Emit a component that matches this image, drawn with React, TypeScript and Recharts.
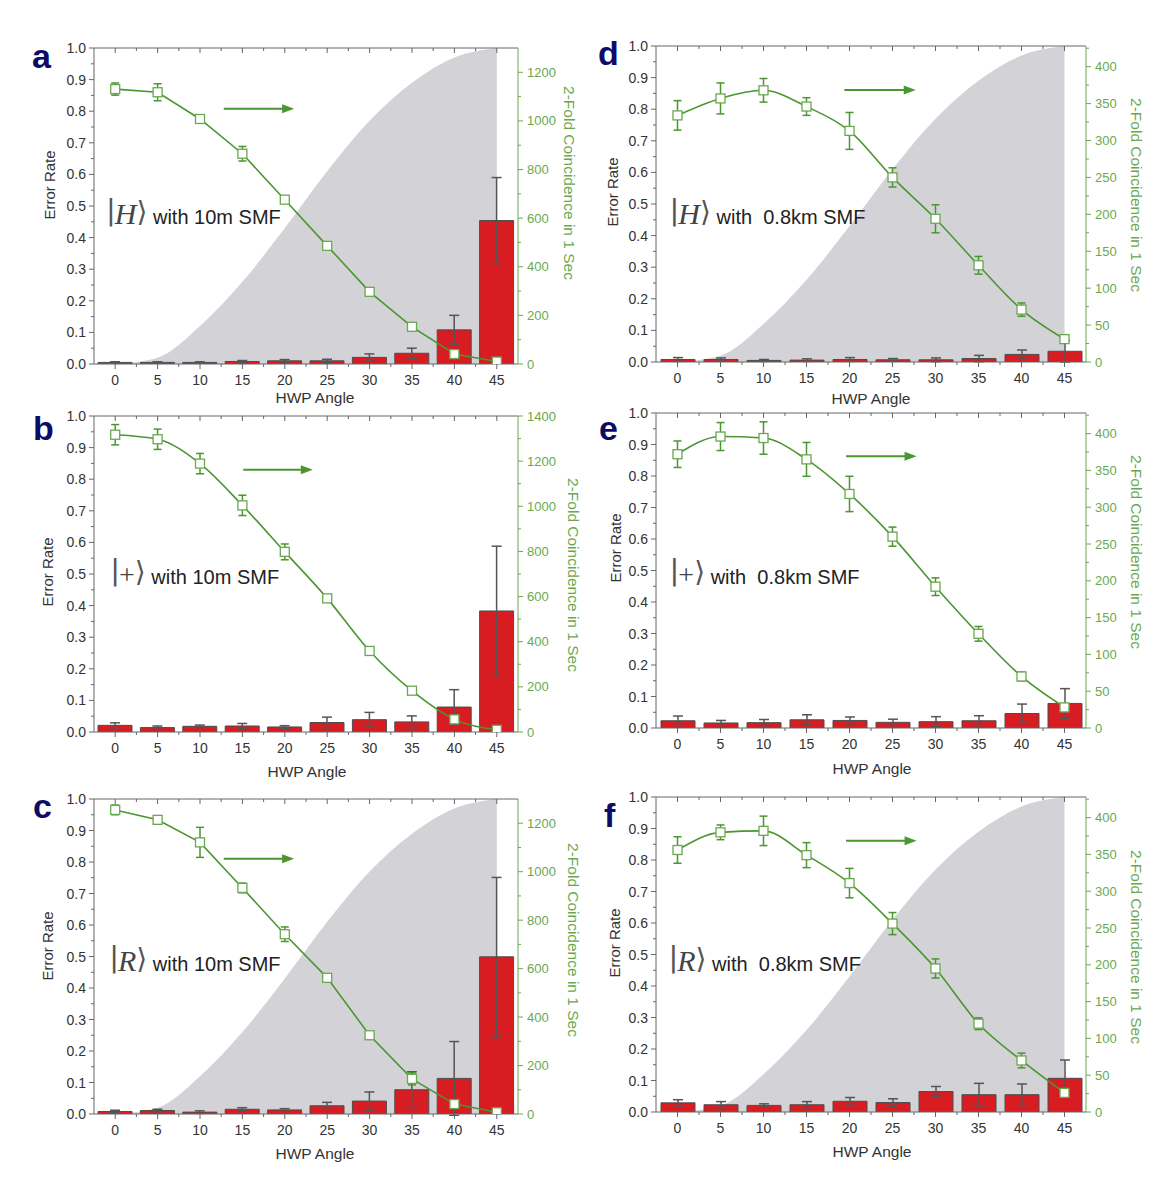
import React from "react";
import {
  ComposedChart,
  Area,
  Bar,
  Line,
  XAxis,
  YAxis,
  ErrorBar,
  ReferenceLine,
  ReferenceDot,
} from "recharts";

const C_RED = "#d71c22";
const C_BAR_EDGE = "#4d4d4d";
const C_SHADE = "#d3d3d7";
const C_GREEN = "#4a9630";
const C_GREEN_AXIS = "#6aa84f";
const C_AXIS = "#666666";
const C_TEXT = "#333333";
const C_NAVY = "#0c0c66";
const SANS = "Liberation Sans, Arial, sans-serif";
const SERIF = "Liberation Serif, DejaVu Serif, serif";

// HWP angle categories (degrees)
const angles = [0, 5, 10, 15, 20, 25, 30, 35, 40, 45];
// grey background profile (left axis units)
const shade = [0, 0.02, 0.12, 0.26, 0.43, 0.61, 0.77, 0.89, 0.97, 1.0];

// axis ticks
const leftMajor = [0, 0.1, 0.2, 0.3, 0.4, 0.5, 0.6, 0.7, 0.8, 0.9, 1.0];
const leftMinor = [0.05, 0.15, 0.25, 0.35, 0.45, 0.55, 0.65, 0.75, 0.85, 0.95];
const bottomMinor = [2.5, 7.5, 12.5, 17.5, 22.5, 27.5, 32.5, 37.5, 42.5];
const right1300Major = [0, 200, 400, 600, 800, 1000, 1200];
const right1300Minor = [100, 300, 500, 700, 900, 1100];
const right1400Major = [0, 200, 400, 600, 800, 1000, 1200, 1400];
const right1400Minor = [100, 300, 500, 700, 900, 1100, 1300];
const right430Major = [0, 50, 100, 150, 200, 250, 300, 350, 400];
const right430Minor = [25, 75, 125, 175, 225, 275, 325, 375, 425];

// panel a: |H> 10m
const rateA = [0.005, 0.005, 0.005, 0.008, 0.01, 0.01, 0.021, 0.034, 0.108, 0.454];
const rateErrA = [0.002, 0.002, 0.002, 0.003, 0.004, 0.005, 0.011, 0.016, 0.046, 0.136];
const coincA = [1131, 1118, 1008, 865, 676, 486, 297, 153, 41, 10];
const coincErrA = [25, 35, 15, 30, 12, 10, 8, 8, 8, 3];

// panel b: |+> 10m
const rateB = [0.021, 0.014, 0.018, 0.019, 0.016, 0.03, 0.039, 0.032, 0.079, 0.383];
const rateErrB = [0.008, 0.005, 0.004, 0.008, 0.004, 0.017, 0.023, 0.019, 0.055, 0.205];
const coincB = [1317, 1297, 1189, 1004, 798, 592, 359, 183, 56, 10];
const coincErrB = [45, 45, 45, 45, 35, 15, 10, 10, 15, 3];

// panel c: |R> 10m
const rateC = [0.008, 0.011, 0.006, 0.015, 0.013, 0.026, 0.041, 0.077, 0.113, 0.499];
const rateErrC = [0.004, 0.004, 0.004, 0.005, 0.004, 0.011, 0.029, 0.057, 0.117, 0.252];
const coincC = [1255, 1214, 1121, 933, 742, 562, 325, 145, 41, 7];
const coincErrC = [20, 15, 62, 20, 30, 10, 12, 25, 10, 5];

// panel d: |H> 0.8km
const rateD = [0.008, 0.008, 0.005, 0.006, 0.008, 0.007, 0.007, 0.011, 0.024, 0.034];
const rateErrD = [0.006, 0.005, 0.003, 0.004, 0.006, 0.004, 0.006, 0.01, 0.014, 0.034];
const coincD = [334, 357, 368, 346, 313, 250, 194, 131, 71, 31];
const coincErrD = [20, 21, 16, 12, 25, 13, 19, 12, 9, 5];

// panel e: |+> 0.8km
const rateE = [0.023, 0.016, 0.017, 0.026, 0.024, 0.018, 0.02, 0.023, 0.046, 0.078];
const rateErrE = [0.015, 0.008, 0.01, 0.016, 0.011, 0.01, 0.016, 0.016, 0.03, 0.047];
const coincE = [372, 396, 394, 365, 318, 260, 192, 128, 70, 28];
const coincErrE = [18, 19, 22, 23, 24, 13, 12, 10, 6, 5];

// panel f: |R> 0.8km
const rateF = [0.029, 0.023, 0.021, 0.023, 0.034, 0.03, 0.065, 0.055, 0.055, 0.107];
const rateErrF = [0.01, 0.01, 0.005, 0.01, 0.012, 0.012, 0.016, 0.036, 0.034, 0.058];
const coincF = [356, 380, 382, 349, 311, 256, 195, 120, 70, 26];
const coincErrF = [18, 10, 20, 17, 20, 15, 13, 8, 10, 5];

const LW = 60;
const RW = 45;
const MT = 10;
const XH = 30;

type PanelCfg = {
  letter: string;
  plot: { x: number; y: number; w: number; h: number };
  rate: number[];
  rateErr: number[];
  coinc: number[];
  coincErr: number[];
  shaded: boolean;
  curve: "linear" | "monotone";
  rightMax: number;
  rightMajor: number[];
  rightMinor: number[];
  ket: string;
  italicKet: boolean;
  fiber: string;
  ketAt: { x: number; y: number };
  arrow: { x1: number; x2: number; y: number };
  letterAt: { x: number; y: number };
  errTitle: { x: number; y: number };
  hwpTitle: { x: number; y: number };
  coinTitle: { x: number; y: number };
};

const panels: PanelCfg[] = [
  {
    letter: "a",
    plot: { x: 94, y: 48, w: 424, h: 316 },
    rate: rateA, rateErr: rateErrA, coinc: coincA, coincErr: coincErrA,
    shaded: true, curve: "linear",
    rightMax: 1300, rightMajor: right1300Major, rightMinor: right1300Minor,
    ket: "H", italicKet: true, fiber: "with 10m SMF",
    ketAt: { x: -1.08, y: 0.443 },
    arrow: { x1: 12.8, x2: 21.1, y: 0.808 },
    letterAt: { x: 32, y: 68 },
    errTitle: { x: 49, y: 185 },
    hwpTitle: { x: 315, y: 397 },
    coinTitle: { x: 569, y: 183 },
  },
  {
    letter: "b",
    plot: { x: 94, y: 416, w: 424, h: 316 },
    rate: rateB, rateErr: rateErrB, coinc: coincB, coincErr: coincErrB,
    shaded: false, curve: "monotone",
    rightMax: 1400, rightMajor: right1400Major, rightMinor: right1400Minor,
    ket: "+", italicKet: false, fiber: "with 10m SMF",
    ketAt: { x: -0.58, y: 0.467 },
    arrow: { x1: 15.1, x2: 23.3, y: 0.83 },
    letterAt: { x: 33, y: 440 },
    errTitle: { x: 47, y: 572 },
    hwpTitle: { x: 307, y: 771 },
    coinTitle: { x: 573, y: 575 },
  },
  {
    letter: "c",
    plot: { x: 94, y: 799, w: 424, h: 315 },
    rate: rateC, rateErr: rateErrC, coinc: coincC, coincErr: coincErrC,
    shaded: true, curve: "linear",
    rightMax: 1300, rightMajor: right1300Major, rightMinor: right1300Minor,
    ket: "R", italicKet: true, fiber: "with 10m SMF",
    ketAt: { x: -0.71, y: 0.454 },
    arrow: { x1: 12.8, x2: 21.1, y: 0.81 },
    letterAt: { x: 33, y: 818 },
    errTitle: { x: 47, y: 946 },
    hwpTitle: { x: 315, y: 1153 },
    coinTitle: { x: 573, y: 940 },
  },
  {
    letter: "d",
    plot: { x: 656, y: 46, w: 430, h: 316 },
    rate: rateD, rateErr: rateErrD, coinc: coincD, coincErr: coincErrD,
    shaded: true, curve: "monotone",
    rightMax: 428, rightMajor: right430Major, rightMinor: right430Minor,
    ket: "H", italicKet: true, fiber: "with  0.8km SMF",
    ketAt: { x: -0.92, y: 0.438 },
    arrow: { x1: 19.4, x2: 27.7, y: 0.861 },
    letterAt: { x: 598, y: 65 },
    errTitle: { x: 612, y: 192 },
    hwpTitle: { x: 871, y: 398 },
    coinTitle: { x: 1136, y: 195 },
  },
  {
    letter: "e",
    plot: { x: 656, y: 413, w: 430, h: 315 },
    rate: rateE, rateErr: rateErrE, coinc: coincE, coincErr: coincErrE,
    shaded: false, curve: "monotone",
    rightMax: 428, rightMajor: right430Major, rightMinor: right430Minor,
    ket: "+", italicKet: false, fiber: "with  0.8km SMF",
    ketAt: { x: -0.92, y: 0.457 },
    arrow: { x1: 19.6, x2: 27.8, y: 0.863 },
    letterAt: { x: 599, y: 440 },
    errTitle: { x: 615, y: 548 },
    hwpTitle: { x: 872, y: 768 },
    coinTitle: { x: 1136, y: 552 },
  },
  {
    letter: "f",
    plot: { x: 656, y: 797, w: 430, h: 315 },
    rate: rateF, rateErr: rateErrF, coinc: coincF, coincErr: coincErrF,
    shaded: true, curve: "monotone",
    rightMax: 428, rightMajor: right430Major, rightMinor: right430Minor,
    ket: "R", italicKet: true, fiber: "with  0.8km SMF",
    ketAt: { x: -1.05, y: 0.448 },
    arrow: { x1: 19.6, x2: 27.8, y: 0.861 },
    letterAt: { x: 604, y: 827 },
    errTitle: { x: 614, y: 943 },
    hwpTitle: { x: 872, y: 1151 },
    coinTitle: { x: 1136, y: 947 },
  },
];

function Panel({ cfg }: { cfg: PanelCfg }) {
  const { plot } = cfg;
  const W = plot.w + LW + RW;
  const H = plot.h + MT + XH;
  const pL = LW;
  const pR = LW + plot.w;
  const pT = MT;
  const pB = MT + plot.h;

  const rows = angles.map((a, i) => ({
    angle: a,
    shade: cfg.shaded ? shade[i] : null,
    rate: cfg.rate[i],
    rateErr: cfg.rateErr[i],
    coinc: cfg.coinc[i],
    coincErr: cfg.coincErr[i],
  }));

  const leftTick = (p: any) => {
    const v = p.payload.value;
    const major = leftMajor.includes(v);
    return (
      <g>
        <line x1={pL} x2={pL - (major ? 5 : 3)} y1={p.y} y2={p.y} stroke={C_AXIS} />
        {major && (
          <text x={pL - 8} y={p.y} dy={5} textAnchor="end" fontSize={14} fontFamily={SANS} fill={C_TEXT}>
            {v.toFixed(1)}
          </text>
        )}
      </g>
    );
  };

  const rightTick = (p: any) => {
    const v = p.payload.value;
    const major = cfg.rightMajor.includes(v);
    return (
      <g>
        <line x1={pR} x2={pR + (major ? 5 : 3)} y1={p.y} y2={p.y} stroke={C_GREEN_AXIS} />
        {major && (
          <text x={pR + 9} y={p.y} dy={4.5} textAnchor="start" fontSize={13} fontFamily={SANS} fill={C_GREEN_AXIS}>
            {v}
          </text>
        )}
      </g>
    );
  };

  const bottomTick = (p: any) => {
    const v = p.payload.value;
    const major = angles.includes(v);
    const len = major ? 5 : 3;
    return (
      <g>
        <line x1={p.x} x2={p.x} y1={pB} y2={pB + len} stroke={C_AXIS} />
        <line x1={p.x} x2={p.x} y1={pT} y2={pT + len} stroke={C_AXIS} />
        {major && (
          <text x={p.x} y={pB + 21} textAnchor="middle" fontSize={14} fontFamily={SANS} fill={C_TEXT}>
            {v}
          </text>
        )}
      </g>
    );
  };

  const squareDot = (p: any) => {
    if (p.cx == null || p.cy == null) return <g key={`sq${p.index}`} />;
    return (
      <rect
        key={`sq${p.index}`}
        x={p.cx - 4.5}
        y={p.cy - 4.5}
        width={9}
        height={9}
        fill="#ffffff"
        stroke={C_GREEN_AXIS}
        strokeWidth={1.3}
      />
    );
  };

  const ketShape = (p: any) => (
    <text x={p.cx} y={p.cy} fontFamily={SANS} fontSize={20} fill="#222" style={{ whiteSpace: "pre" }}>
      <tspan fontFamily="DejaVu Sans, sans-serif" fontSize={29} fill="#555" dy={-4}>|</tspan>
      <tspan
        fontFamily={SERIF}
        fontStyle={cfg.italicKet ? "italic" : "normal"}
        fontSize={cfg.italicKet ? 30 : 28}
        fill="#444"
        dy={4}
        dx={-1}
      >
        {cfg.ket}
      </tspan>
      <tspan fontFamily="DejaVu Sans, DejaVu Serif, sans-serif" fontSize={28} fill="#555" dy={-3}>⟩</tspan>
      <tspan dy={3}>{" " + cfg.fiber}</tspan>
    </text>
  );

  const arrowShape = (p: any) => {
    const { x1, y1, x2 } = p;
    return (
      <g>
        <line x1={x1} y1={y1} x2={x2 - 8} y2={y1} stroke={C_GREEN} strokeWidth={2} />
        <polygon points={`${x2},${y1} ${x2 - 12},${y1 - 4.5} ${x2 - 12},${y1 + 4.5}`} fill={C_GREEN} />
      </g>
    );
  };

  return (
    <div style={{ position: "absolute", left: plot.x - LW, top: plot.y - MT, width: W, height: H }}>
      <ComposedChart width={W} height={H} data={rows} margin={{ top: MT, right: 0, bottom: 0, left: 0 }}>
        <XAxis
          dataKey="angle"
          type="number"
          domain={[-2.5, 47.5]}
          allowDataOverflow
          ticks={[...angles, ...bottomMinor]}
          interval={0}
          height={XH}
          tickLine={false}
          axisLine={{ stroke: C_AXIS }}
          tick={bottomTick}
        />
        <YAxis
          yAxisId="left"
          domain={[0, 1]}
          allowDataOverflow
          ticks={[...leftMajor, ...leftMinor]}
          interval={0}
          width={LW}
          tickLine={false}
          axisLine={{ stroke: C_AXIS }}
          tick={leftTick}
        />
        <YAxis
          yAxisId="right"
          orientation="right"
          domain={[0, cfg.rightMax]}
          allowDataOverflow
          ticks={[...cfg.rightMajor, ...cfg.rightMinor]}
          interval={0}
          width={RW}
          tickLine={false}
          axisLine={{ stroke: C_GREEN_AXIS }}
          tick={rightTick}
        />
        {cfg.shaded && (
          <Area
            yAxisId="left"
            type="monotone"
            dataKey="shade"
            fill={C_SHADE}
            fillOpacity={1}
            stroke="none"
            isAnimationActive={false}
          />
        )}
        <ReferenceLine yAxisId="left" y={1} stroke={C_AXIS} />
        <Bar
          yAxisId="left"
          dataKey="rate"
          barSize={34}
          fill={C_RED}
          stroke={C_BAR_EDGE}
          strokeWidth={1}
          isAnimationActive={false}
        >
          <ErrorBar dataKey="rateErr" width={5} stroke="#555555" strokeWidth={1.5} direction="y" />
        </Bar>
        <Line
          yAxisId="right"
          type={cfg.curve}
          dataKey="coinc"
          stroke={C_GREEN}
          strokeWidth={1.6}
          dot={squareDot}
          activeDot={false}
          isAnimationActive={false}
        >
          <ErrorBar dataKey="coincErr" width={4} stroke={C_GREEN} strokeWidth={1.5} direction="y" />
        </Line>
        <ReferenceLine
          yAxisId="left"
          segment={[
            { x: cfg.arrow.x1, y: cfg.arrow.y },
            { x: cfg.arrow.x2, y: cfg.arrow.y },
          ]}
          ifOverflow="visible"
          shape={arrowShape}
        />
        <ReferenceDot yAxisId="left" x={cfg.ketAt.x} y={cfg.ketAt.y} r={0} shape={ketShape} />
      </ComposedChart>
    </div>
  );
}

export default function App() {
  return (
    <div
      style={{
        position: "absolute",
        left: 0,
        top: 0,
        width: 1168,
        height: 1190,
        background: "#ffffff",
        overflow: "hidden",
      }}
    >
      {panels.map((cfg) => (
        <Panel key={cfg.letter} cfg={cfg} />
      ))}
      <svg width={1168} height={1190} style={{ position: "absolute", left: 0, top: 0, pointerEvents: "none" }}>
        {panels.map((cfg) => (
          <g key={cfg.letter} fontFamily={SANS}>
            <text x={cfg.letterAt.x} y={cfg.letterAt.y} fontSize={34} fontWeight="bold" fill={C_NAVY}>
              {cfg.letter}
            </text>
            <text
              x={cfg.errTitle.x}
              y={cfg.errTitle.y}
              fontSize={15}
              fill={C_TEXT}
              textAnchor="middle"
              dominantBaseline="central"
              transform={`rotate(-90 ${cfg.errTitle.x} ${cfg.errTitle.y})`}
            >
              Error Rate
            </text>
            <text
              x={cfg.hwpTitle.x}
              y={cfg.hwpTitle.y}
              fontSize={15.5}
              fill={C_TEXT}
              textAnchor="middle"
              dominantBaseline="central"
            >
              HWP Angle
            </text>
            <text
              x={cfg.coinTitle.x}
              y={cfg.coinTitle.y}
              fontSize={15.5}
              fill={C_GREEN_AXIS}
              textAnchor="middle"
              dominantBaseline="central"
              transform={`rotate(90 ${cfg.coinTitle.x} ${cfg.coinTitle.y})`}
            >
              2-Fold Coincidence in 1 Sec
            </text>
          </g>
        ))}
      </svg>
    </div>
  );
}
